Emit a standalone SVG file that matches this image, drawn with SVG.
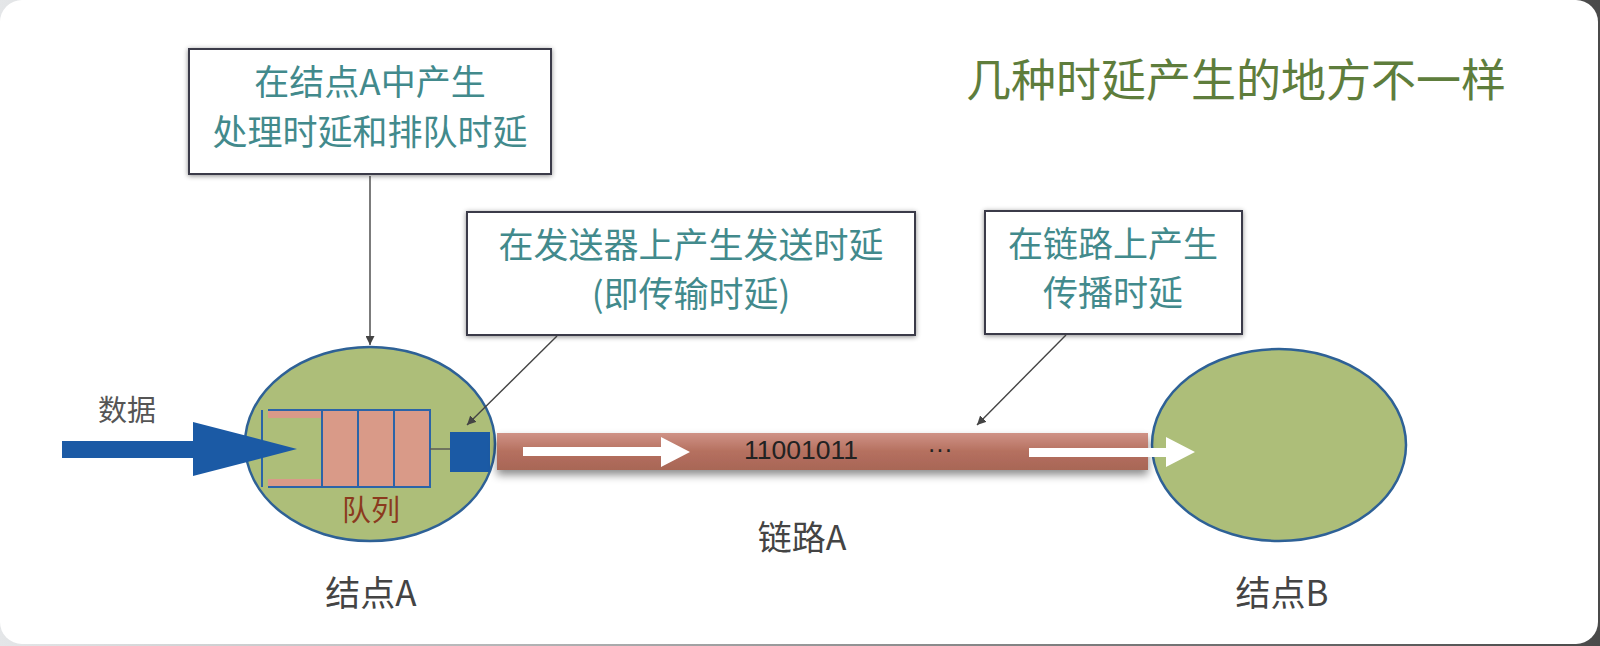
<svg xmlns="http://www.w3.org/2000/svg" width="1600" height="646" viewBox="0 0 1600 646">
<defs>
<linearGradient id="bg" x1="0" y1="0" x2="1" y2="0">
<stop offset="0" stop-color="#e4e6e8"/>
<stop offset="1" stop-color="#4a4a4a"/>
</linearGradient>
<linearGradient id="bar" x1="0" y1="0" x2="0" y2="1">
<stop offset="0" stop-color="#cf9286"/>
<stop offset="0.5" stop-color="#b5705f"/>
<stop offset="1" stop-color="#a86656"/>
</linearGradient>
<filter id="boxShadow" x="-10%" y="-10%" width="120%" height="120%">
<feDropShadow dx="0" dy="1" stdDeviation="2.5" flood-color="#000" flood-opacity="0.45"/>
</filter>
<filter id="barShadow" x="-5%" y="-30%" width="110%" height="180%">
<feDropShadow dx="0" dy="5" stdDeviation="4" flood-color="#000" flood-opacity="0.45"/>
</filter>
<marker id="arr" viewBox="0 0 10 10" refX="10" refY="5" markerWidth="9" markerHeight="9" markerUnits="userSpaceOnUse" orient="auto">
<path d="M0,0 L10,5 L0,10 z" fill="#444"/>
</marker>
<style>
.cjk{font-family:"Noto Sans CJK SC","Noto Sans",sans-serif;}
.box{fill:#fff;stroke:#3a3b48;stroke-width:2;filter:url(#boxShadow);}
.boxtxt{font-size:35px;fill:#428a8c;text-anchor:middle;}
.lbl{font-size:35px;fill:#444;text-anchor:middle;}
.node{fill:#adbe79;stroke:#2e6196;stroke-width:2.5;}
.cell{fill:#d99a88;stroke:#2b64a8;stroke-width:2;}
.qline{stroke:#2b64a8;stroke-width:2;fill:none;}
.conn{stroke:#444;stroke-width:1.4;fill:none;marker-end:url(#arr);}
.white{fill:#fff;}
.blue{fill:#1b5aa5;}
</style>
</defs>
<rect x="0" y="0" width="1600" height="646" fill="url(#bg)"/>
<rect x="0" y="0" width="1598" height="644" rx="22" ry="22" fill="#fff"/>

<text class="cjk" x="1236" y="97" font-size="45" fill="#5e7d3c" text-anchor="middle">几种时延产生的地方不一样</text>

<g id="box1">
<rect class="box" x="189" y="49" width="362" height="125"/>
<text class="cjk boxtxt" x="370" y="95">在结点A中产生</text>
<text class="cjk boxtxt" x="370" y="145">处理时延和排队时延</text>
</g>
<g id="box2">
<rect class="box" x="467" y="212" width="448" height="123"/>
<text class="cjk boxtxt" x="691" y="258">在发送器上产生发送时延</text>
<text class="cjk boxtxt" x="691" y="307">(即传输时延)</text>
</g>
<g id="box3">
<rect class="box" x="985" y="211" width="257" height="123"/>
<text class="cjk boxtxt" x="1113" y="257">在链路上产生</text>
<text class="cjk boxtxt" x="1113" y="306">传播时延</text>
</g>

<g id="nodeA">
<ellipse class="node" cx="370" cy="444" rx="125" ry="97"/>
<rect x="268" y="411" width="54" height="7" fill="#d99a88"/>
<rect x="268" y="479" width="54" height="7" fill="#d99a88"/>
<rect class="cell" x="322" y="410" width="36" height="77"/>
<rect class="cell" x="358" y="410" width="36" height="77"/>
<rect class="cell" x="394" y="410" width="36" height="77"/>
<path class="qline" d="M262,410 V487 M268,410 H322 M268,487 H322"/>
<line x1="430" y1="449" x2="452" y2="449" stroke="#555" stroke-width="1.4"/>
<rect class="blue" x="450" y="432" width="40" height="40"/>
<text class="cjk" x="371" y="521" font-size="29" fill="#8b3a1e" text-anchor="middle">队列</text>
<text class="cjk lbl" x="371" y="606">结点A</text>
</g>

<g id="nodeB">
<ellipse class="node" cx="1279" cy="445" rx="127" ry="96"/>
<text class="cjk lbl" x="1282" y="606">结点B</text>
</g>

<g id="linkA">
<rect x="497" y="433" width="651" height="37" fill="url(#bar)" filter="url(#barShadow)"/>
<path class="white" d="M523,447 H661 V437 L690,452 L661,467 V456 H523 Z"/>
<path class="white" d="M1029,448 H1166 V437 L1195,452 L1166,467 V457 H1029 Z"/>
<text x="801" y="459" font-family="Liberation Sans, Arial, sans-serif" font-size="26.5" fill="#222" text-anchor="middle">11001011</text>
<text x="940" y="458" font-family="Liberation Sans, Arial, sans-serif" font-size="25" fill="#222" text-anchor="middle">···</text>
<text class="cjk" x="802" y="550" font-size="34" fill="#444" text-anchor="middle">链路A</text>
</g>

<g id="input">
<path class="blue" d="M62,441 H193 V422 L297,449 L193,476 V458 H62 Z"/>
<text class="cjk" x="127" y="421" font-size="29" fill="#555" text-anchor="middle">数据</text>
</g>

<g id="connectors">
<line class="conn" x1="370" y1="176" x2="370" y2="345"/>
<line class="conn" x1="557" y1="336" x2="467" y2="425"/>
<line class="conn" x1="1066" y1="335" x2="977" y2="425"/>
</g>
</svg>
